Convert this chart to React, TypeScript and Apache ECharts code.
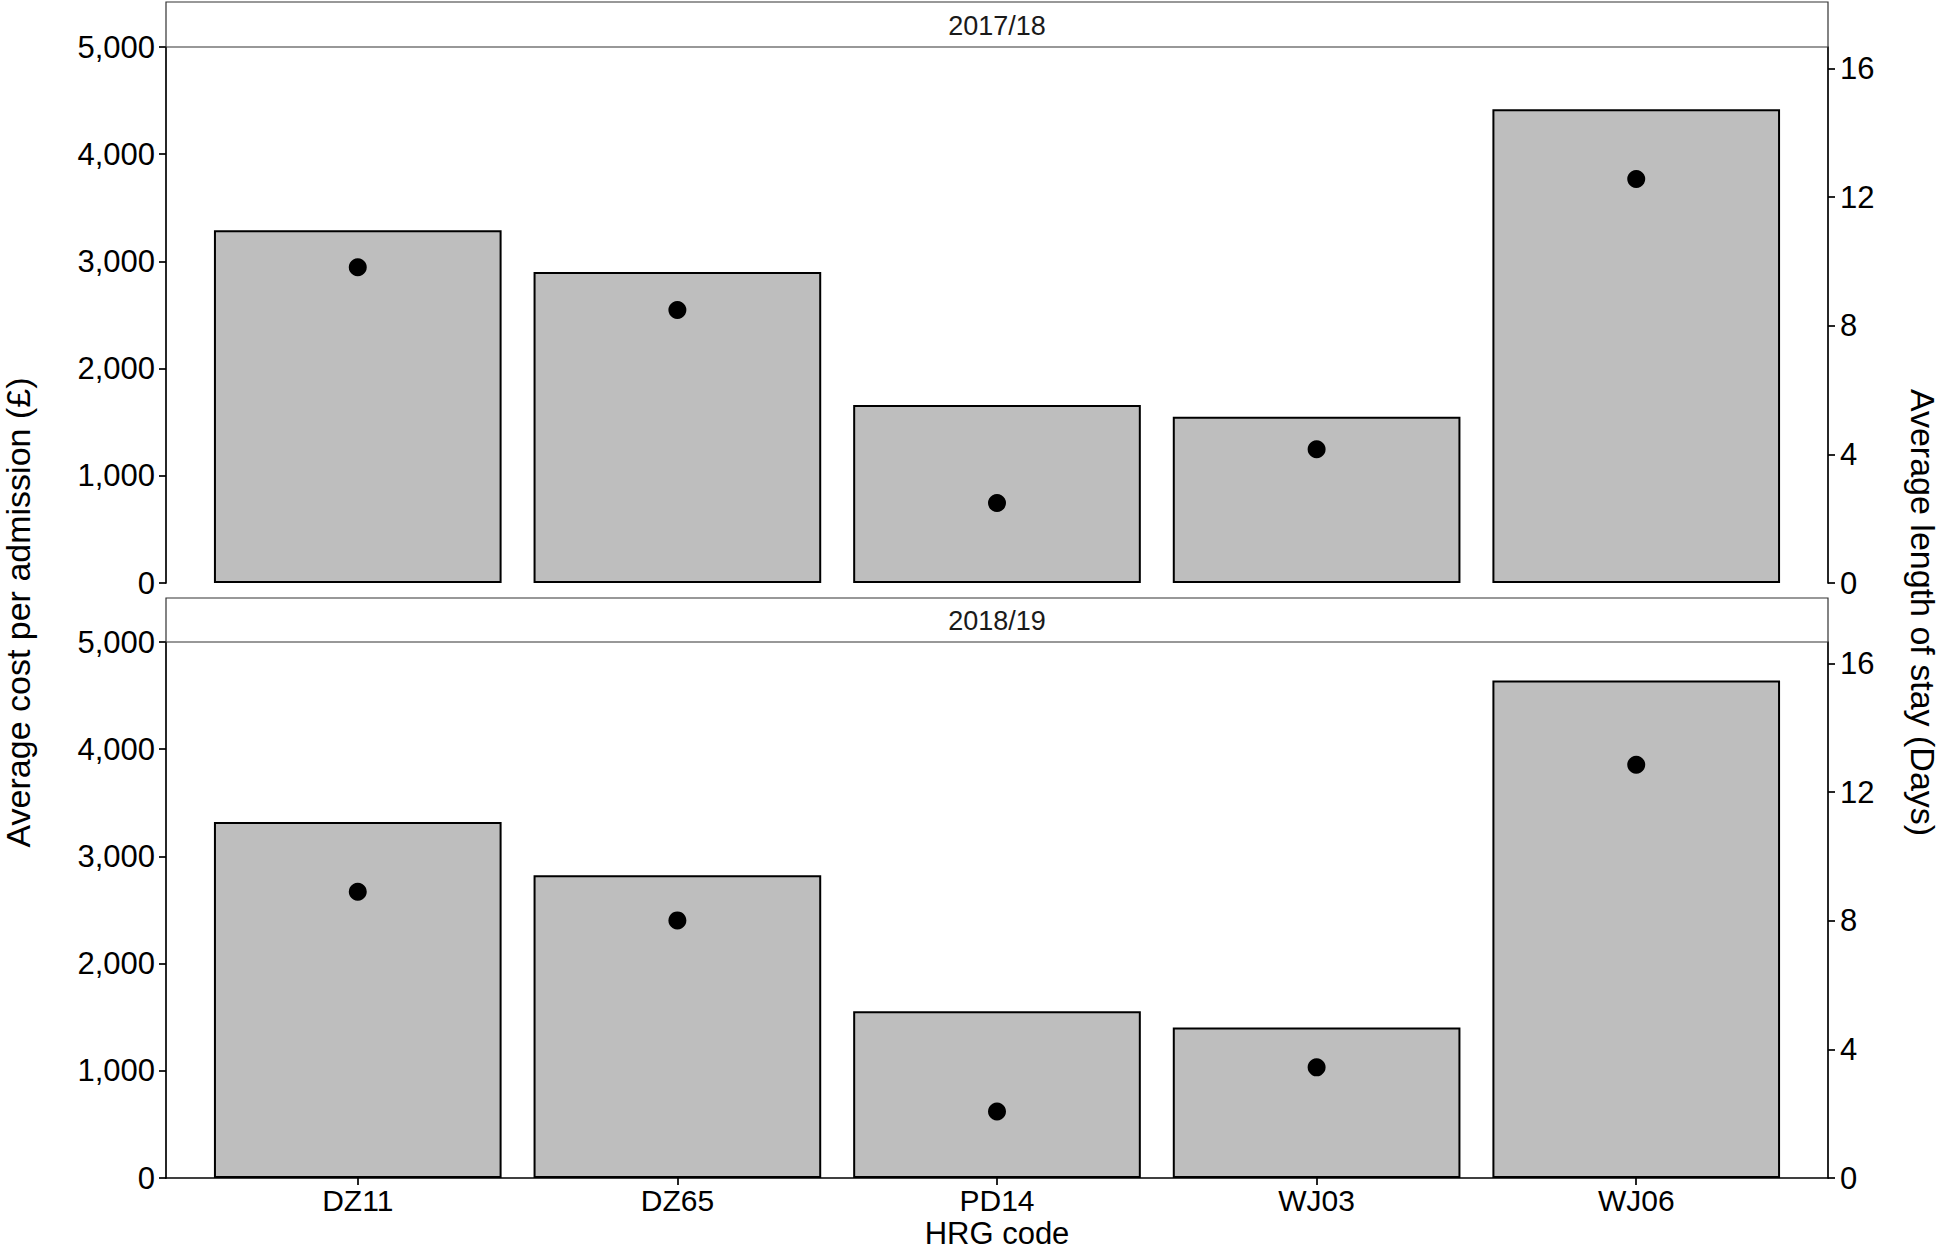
import React, { useEffect, useRef } from "react";
import * as echarts from "echarts";

const categories = ["DZ11", "DZ65", "PD14", "WJ03", "WJ06"];
const panelTitles = ["2017/18", "2018/19"];
const cost1718 = [3290, 2900, 1660, 1550, 4420];
const stay1718 = [9.82, 8.49, 2.49, 4.16, 12.56];
const cost1819 = [3320, 2825, 1555, 1405, 4640];
const stay1819 = [8.9, 8.01, 2.07, 3.44, 12.85];
const costTicks = [0, 1000, 2000, 3000, 4000, 5000];
const stayTicks = [0, 4, 8, 12, 16];
const costMax = 5000;
const costPerDay = 300; // secondary axis = cost / 300

const FONT = "'Liberation Sans', Arial, Helvetica, sans-serif";

export default function App() {
  const ref = useRef<HTMLDivElement>(null);
  useEffect(() => {
    document.body.style.margin = "0";
    const chart = echarts.init(ref.current!, null, { renderer: "svg" });
    const left = 166;
    const right = 1828;
    const pw = right - left;
    const panelsY = [
      { stripTop: 2, top: 47, height: 536 },
      { stripTop: 598, top: 642, height: 536 },
    ];
    const costs = [cost1718, cost1819];
    const stays = [stay1718, stay1819];
    const catIdx = categories.map((_, i) => i + 1);

    const axisLineStyle = { color: "#000", width: 1.7 };
    const labelStyle = { color: "#000", fontSize: 31, fontFamily: FONT };

    const grids: any[] = [];
    const xAxes: any[] = [];
    const yAxes: any[] = [];
    const series: any[] = [];
    const graphics: any[] = [];

    panelsY.forEach((p, k) => {
      grids.push({ left, top: p.top, width: pw, height: p.height, containLabel: false });
      const isBottom = k === panelsY.length - 1;
      xAxes.push({
        type: "value",
        gridIndex: k,
        min: 0.4,
        max: 5.6,
        axisLine: { show: isBottom, onZero: false, lineStyle: axisLineStyle },
        axisTick: { show: isBottom, customValues: catIdx, length: 7, lineStyle: axisLineStyle },
        axisLabel: {
          show: isBottom,
          customValues: catIdx,
          formatter: (v: number) => categories[Math.round(v) - 1] ?? "",
          margin: 7,
          ...labelStyle,
          fontSize: 30,
          lineHeight: 30,
        },
        splitLine: { show: false },
      });
      yAxes.push({
        type: "value",
        gridIndex: k,
        position: "left",
        min: 0,
        max: costMax,
        interval: 1000,
        axisLine: { show: true, lineStyle: axisLineStyle },
        axisTick: { show: true, customValues: costTicks, length: 7, lineStyle: axisLineStyle },
        axisLabel: {
          customValues: costTicks,
          formatter: (v: number) => v.toLocaleString("en-US"),
          margin: 11,
          ...labelStyle,
        },
        splitLine: { show: false },
      });
      yAxes.push({
        type: "value",
        gridIndex: k,
        position: "right",
        min: 0,
        max: costMax / costPerDay,
        axisLine: { show: true, lineStyle: axisLineStyle },
        axisTick: { show: true, customValues: stayTicks, length: 7, lineStyle: axisLineStyle },
        axisLabel: { customValues: stayTicks, margin: 12, ...labelStyle },
        splitLine: { show: false },
      });
      series.push({
        type: "bar",
        xAxisIndex: k,
        yAxisIndex: k * 2,
        barWidth: "90%",
        data: costs[k].map((v, i) => [catIdx[i], v]),
        itemStyle: { color: "#BEBEBE", borderColor: "#000", borderWidth: 2 },
        z: 2,
      });
      series.push({
        type: "scatter",
        xAxisIndex: k,
        yAxisIndex: k * 2 + 1,
        symbol: "circle",
        symbolSize: 18,
        data: stays[k].map((v, i) => [catIdx[i], v]),
        itemStyle: { color: "#000", opacity: 1 },
        z: 3,
      });
      graphics.push({
        type: "rect",
        shape: { x: left, y: p.stripTop, width: pw, height: p.top - p.stripTop },
        style: { fill: "#fff", stroke: "#333", lineWidth: 1.2 },
        z: 10,
      });
      graphics.push({
        type: "text",
        x: (left + right) / 2,
        y: (p.stripTop + p.top) / 2 + 1,
        style: {
          text: panelTitles[k],
          fill: "#1a1a1a",
          font: `27px ${FONT}`,
          align: "center",
          verticalAlign: "middle",
        },
        z: 11,
      });
    });

    const midY = (panelsY[0].top + panelsY[1].top + panelsY[1].height) / 2;
    graphics.push({
      type: "text",
      x: 18,
      y: midY,
      rotation: Math.PI / 2,
      style: {
        text: "Average cost per admission (£)",
        fill: "#000",
        font: `34px ${FONT}`,
        align: "center",
        verticalAlign: "middle",
      },
    });
    graphics.push({
      type: "text",
      x: 1923,
      y: midY,
      rotation: -Math.PI / 2,
      style: {
        text: "Average length of stay (Days)",
        fill: "#000",
        font: `34px ${FONT}`,
        align: "center",
        verticalAlign: "middle",
      },
    });
    graphics.push({
      type: "text",
      x: (left + right) / 2,
      y: 1233,
      style: {
        text: "HRG code",
        fill: "#000",
        font: `31px ${FONT}`,
        lineHeight: 31,
        align: "center",
        verticalAlign: "middle",
      },
    });

    chart.setOption({
      animation: false,
      backgroundColor: "#fff",
      grid: grids,
      xAxis: xAxes,
      yAxis: yAxes,
      series,
      graphic: graphics,
    });
    return () => chart.dispose();
  }, []);
  return (
    <div
      ref={ref}
      style={{ position: "absolute", left: 0, top: 0, width: 1946, height: 1251 }}
    />
  );
}
